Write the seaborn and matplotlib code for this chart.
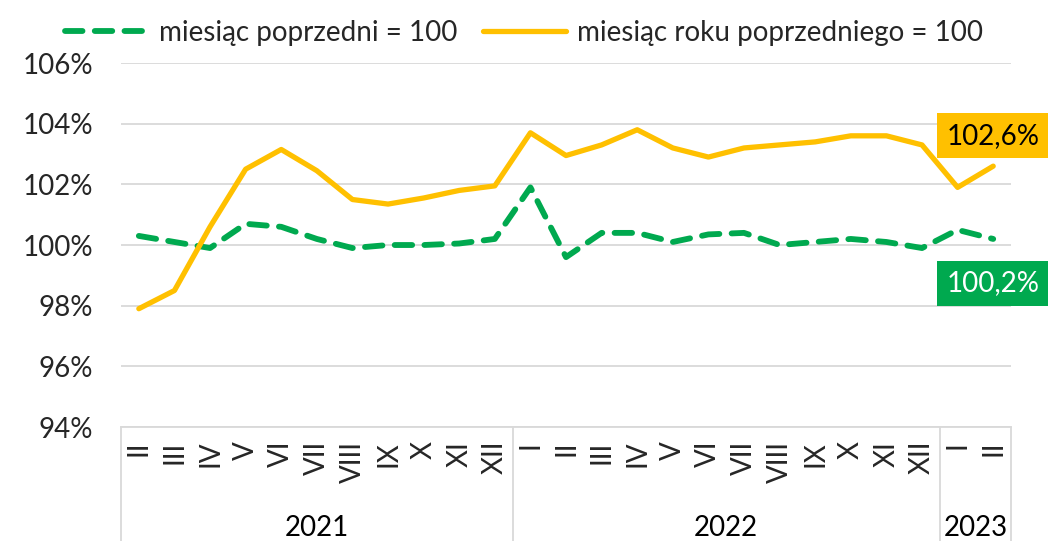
import matplotlib
matplotlib.use("Agg")
import matplotlib.pyplot as plt
import matplotlib.transforms as mtransforms
import seaborn as sns
import pandas as pd
import numpy as np

months = ["II", "III", "IV", "V", "VI", "VII", "VIII", "IX", "X", "XI", "XII",
          "I", "II", "III", "IV", "V", "VI", "VII", "VIII", "IX", "X", "XI", "XII",
          "I", "II"]
years = ["2021"] * 11 + ["2022"] * 12 + ["2023"] * 2
mom = [100.3, 100.1, 99.9, 100.7, 100.6, 100.2, 99.9, 100.0, 100.0, 100.05, 100.2,
       101.9, 99.6, 100.4, 100.4, 100.1, 100.35, 100.4, 100.0, 100.1, 100.2, 100.1, 99.9,
       100.5, 100.2]
yoy = [97.9, 98.5, 100.6, 102.5, 103.15, 102.45, 101.5, 101.35, 101.55, 101.8, 101.95,
       103.7, 102.95, 103.3, 103.8, 103.2, 102.9, 103.2, 103.3, 103.4, 103.6, 103.6, 103.3,
       101.9, 102.6]
series_mom = "miesiąc poprzedni = 100"
series_yoy = "miesiąc roku poprzedniego = 100"
label_yoy = "102,6%"
label_mom = "100,2%"

GREEN = "#00A94F"
YELLOW = "#FFC000"
GRID = "#D9D9D9"
FS = 20

sns.set_theme(style="white")
plt.rcParams["font.family"] = ["Lato", "DejaVu Sans"]

df = pd.DataFrame({"idx": np.arange(len(months)), "month": months, "year": years,
                   series_mom: mom, series_yoy: yoy})
long = df.melt(id_vars=["idx"], value_vars=[series_mom, series_yoy],
               var_name="series", value_name="value")

fig = plt.figure(figsize=(10.48, 5.41), dpi=100)
ax = fig.add_axes([0.1155, 0.2107, 0.8492, 0.6728])

for i, (name, col) in enumerate([(series_mom, GREEN), (series_yoy, YELLOW)]):
    sub = long[long["series"] == name]
    if i == 0:
        sns.lineplot(data=sub, x="idx", y="value", ax=ax, color=col, lw=4.2,
                     label=name, zorder=3, dashes=False)
        ax.lines[-1].set_dashes([3.0, 2.1])
        ax.lines[-1].set_dash_capstyle("round")
    else:
        sns.lineplot(data=sub, x="idx", y="value", ax=ax, color=col, lw=3.8,
                     label=name, zorder=4)
        ax.lines[-1].set_solid_capstyle("round")

ax.set_xlim(-0.5, len(months) - 0.5)
ax.set_ylim(94, 106)
ax.set_yticks(np.arange(94, 107, 2))
ax.set_yticklabels([f"{int(v)}%" for v in np.arange(94, 107, 2)], fontsize=FS)
ax.yaxis.grid(True, color=GRID, lw=1.3)
ax.set_axisbelow(True)
ax.set_xticks(np.arange(len(months)))
ax.set_xticklabels(months, rotation=90, fontsize=FS, va="top", ha="center")
ax.tick_params(axis="x", length=0, pad=10)
ax.tick_params(axis="y", length=0, pad=20)
ax.set_xlabel("")
ax.set_ylabel("")
for s in ["top", "right", "left"]:
    ax.spines[s].set_visible(False)
ax.spines["bottom"].set_color(GRID)
ax.spines["bottom"].set_linewidth(1.3)

trans = mtransforms.blended_transform_factory(ax.transData, ax.transAxes)
bounds = [-0.5]
for i in range(1, len(years)):
    if years[i] != years[i - 1]:
        bounds.append(i - 0.5)
bounds.append(len(years) - 0.5)
for b in bounds:
    ax.plot([b, b], [0, -0.32], transform=trans, color=GRID, lw=1.3, clip_on=False)
uniq = list(dict.fromkeys(years))
for y in uniq:
    idxs = [i for i, v in enumerate(years) if v == y]
    ax.text((idxs[0] + idxs[-1]) / 2, -0.278, y, transform=trans, ha="center",
            va="center", fontsize=FS, color="black")

leg = ax.legend(loc="upper center", bbox_to_anchor=(0.5, 1.01), bbox_transform=fig.transFigure,
                ncol=2, frameon=False, fontsize=FS, handlelength=3.0, columnspacing=0.9,
                handletextpad=0.4)

last = len(months) - 1
ax.annotate(label_yoy, xy=(last, yoy[-1]), xytext=(0, 22), textcoords="offset points",
            ha="center", va="center", fontsize=FS, color="black", annotation_clip=False,
            bbox=dict(boxstyle="square,pad=0.35", fc=YELLOW, ec="none"))
ax.annotate(label_mom, xy=(last, mom[-1]), xytext=(0, -32), textcoords="offset points",
            ha="center", va="center", fontsize=FS, color="white", annotation_clip=False,
            bbox=dict(boxstyle="square,pad=0.35", fc=GREEN, ec="none"))

fig.savefig("out.png", dpi=100)
